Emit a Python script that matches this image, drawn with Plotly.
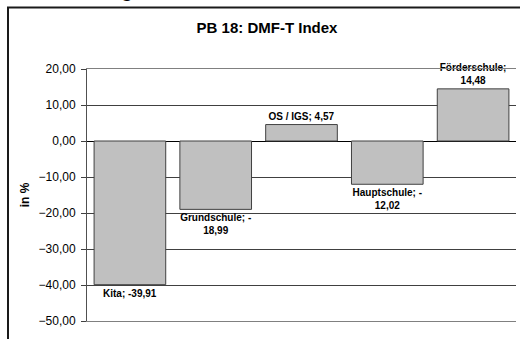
import plotly.graph_objects as go

categories = ["Kita", "Grundschule", "OS / IGS", "Hauptschule", "Förderschule"]
values = [-39.91, -18.99, 4.57, -12.02, 14.48]
label_texts = ["Kita; -39,91", "Grundschule; -<br>18,99", "OS / IGS; 4,57",
               "Hauptschule; -<br>12,02", "Förderschule;<br>14,48"]
tick_vals = [20, 10, 0, -10, -20, -30, -40, -50]

W, H = 520, 339
L, R, T, B = 87, 4, 69, 18
pw, ph = W - L - R, H - T - B

fig = go.Figure(go.Bar(
    x=categories, y=values,
    marker=dict(color="#C0C0C0", line=dict(color="#404040", width=1)),
    text=label_texts, textposition="outside", constraintext="none",
    texttemplate="<b>%{text}</b>",
    textfont=dict(family="Arial, Liberation Sans", size=10, color="#000"),
    cliponaxis=False,
))

fig.update_layout(
    width=W, height=H, margin=dict(l=L, r=R, t=T, b=B),
    paper_bgcolor="white", plot_bgcolor="white",
    separators=",.", bargap=0.165, showlegend=False,
    font=dict(family="Arial, Liberation Sans", color="#000"),
    title=dict(text="<b>PB 18: DMF-T Index</b>", x=267 / W, xanchor="center",
               y=1 - 28 / H, yanchor="middle", font=dict(size=15)),
    xaxis=dict(showticklabels=False, ticks="", showline=True, mirror=True,
               linecolor="#808080", linewidth=1, showgrid=False),
    yaxis=dict(range=[-50, 20], tickvals=tick_vals, tickformat=".2f",
               ticks="outside", ticklen=5, tickcolor="#404040", showline=True,
               linecolor="#505050", linewidth=1, showgrid=True, gridcolor="#404040",
               gridwidth=1, zeroline=True, zerolinecolor="#000", zerolinewidth=1,
               ticklabelstandoff=3,
               tickfont=dict(size=12),
               title=dict(text="<b>in %</b>", font=dict(size=12), standoff=6)),
)

# outer chart frame (extends beyond the visible area)
fig.add_shape(type="rect", xref="paper", yref="paper",
              x0=(8 - L) / pw, x1=(W + 10 - L) / pw,
              y0=-(H + 10 - T - ph) / ph, y1=(H - B - 7.5) / ph,
              line=dict(color="#1a1a1a", width=2), fillcolor="rgba(0,0,0,0)", layer="below")

# cut-off heading glyph at the very top
fig.add_annotation(text="<b>g</b>", xref="paper", yref="paper",
                   x=(127 - L) / pw, y=(H - B - 3) / ph, xanchor="center", yanchor="bottom",
                   showarrow=False, font=dict(size=20, color="#000"))

fig.write_html("out.html", config={"displayModeBar": False},
               post_script="document.body.style.margin='0';")
